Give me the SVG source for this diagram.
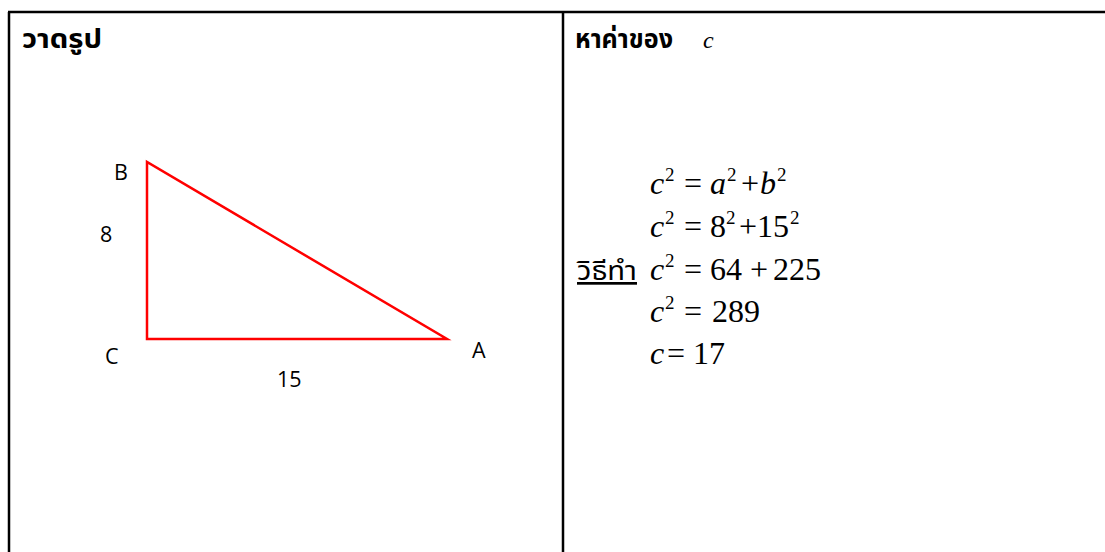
<svg xmlns="http://www.w3.org/2000/svg" width="1105" height="552" viewBox="0 0 1105 552">
<style>
.th{font-family:"Noto Sans Thai","Noto Sans","DejaVu Sans",sans-serif;font-size:27px;fill:#000}
.b{font-weight:bold}
.lbl{font-family:"Open Sans","Noto Sans",sans-serif;font-size:21.5px;fill:#000}
.m{font-family:"Liberation Serif","Times New Roman",serif;font-size:32px;fill:#000}
.i{font-style:italic}
.s{font-size:19px}
</style>
<rect width="1105" height="552" fill="#fff"/>
<g id="table" stroke="#000" stroke-width="2.5" fill="none">
<line x1="8" y1="12" x2="1105" y2="12"/>
<line x1="9" y1="12" x2="9" y2="552"/>
<line x1="563" y1="12" x2="563" y2="552"/>
</g>
<g id="left-cell">
<text class="th b" x="22" y="48" textLength="80" lengthAdjust="spacingAndGlyphs">วาดรูป</text>
</g>
<g id="triangle">
<polygon points="147,162 147,339 447,339" fill="none" stroke="#f00" stroke-width="2.5" stroke-linejoin="miter"/>
<text class="lbl" x="114" y="180">B</text>
<text class="lbl" x="100" y="242">8</text>
<text class="lbl" x="105" y="364">C</text>
<text class="lbl" x="472" y="358">A</text>
<text class="lbl" x="277" y="387">15</text>
</g>
<g id="right-cell">
<text class="th b" x="575" y="48" textLength="98" lengthAdjust="spacingAndGlyphs">หาค่าของ</text>
<text class="m i" x="703" y="48" style="font-size:24px">c</text>
<text class="th" x="577" y="280" textLength="60" lengthAdjust="spacingAndGlyphs" text-decoration="underline">วิธีทำ</text>
<g id="eq1">
<text class="m i" x="650" y="194">c</text><text class="m s" x="665" y="181">2</text>
<text class="m" x="684" y="194">=</text>
<text class="m i" x="710" y="194">a</text><text class="m s" x="727" y="181">2</text>
<text class="m" x="741" y="194">+</text>
<text class="m i" x="760" y="194">b</text><text class="m s" x="777" y="181">2</text>
</g>
<g id="eq2">
<text class="m i" x="650" y="237">c</text><text class="m s" x="665" y="224">2</text>
<text class="m" x="684" y="237">=</text>
<text class="m" x="710" y="237">8</text><text class="m s" x="726" y="224">2</text>
<text class="m" x="739" y="237">+</text>
<text class="m" x="757" y="237">15</text><text class="m s" x="790" y="224">2</text>
</g>
<g id="eq3">
<text class="m i" x="650" y="280">c</text><text class="m s" x="665" y="267">2</text>
<text class="m" x="684" y="280">=</text>
<text class="m" x="710" y="280">64</text>
<text class="m" x="750" y="280">+</text>
<text class="m" x="773" y="280">225</text>
</g>
<g id="eq4">
<text class="m i" x="650" y="322">c</text><text class="m s" x="665" y="309">2</text>
<text class="m" x="684" y="322">=</text>
<text class="m" x="712" y="322">289</text>
</g>
<g id="eq5">
<text class="m i" x="650" y="364">c</text>
<text class="m" x="667" y="364">=</text>
<text class="m" x="693" y="364">17</text>
</g>
</g>
</svg>
